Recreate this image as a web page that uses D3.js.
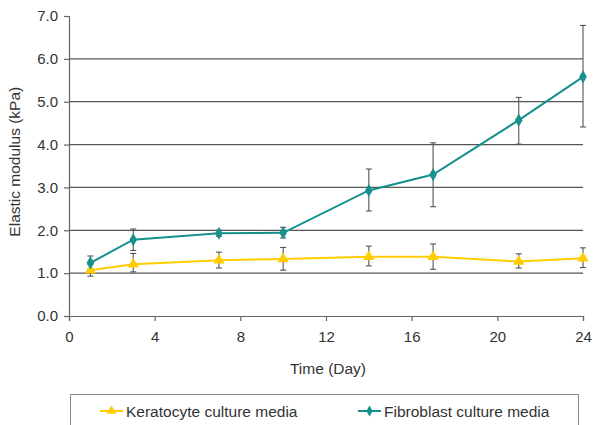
<!DOCTYPE html>
<html>
<head>
<meta charset="utf-8">
<script src="https://cdn.jsdelivr.net/npm/d3@7"></script>
<style>
  body { margin: 0; background: #fff; }
  text { font-family: "Liberation Sans", Arial, sans-serif; fill: #333; }
</style>
</head>
<body>
<svg id="chart" width="594" height="425"></svg>
<script>
var days = [1, 3, 7, 10, 14, 17, 21, 24];
var keratoMean = [1.07, 1.21, 1.30, 1.33, 1.38, 1.38, 1.27, 1.35];
var keratoLow  = [0.93, 1.03, 1.12, 1.07, 1.17, 1.09, 1.12, 1.13];
var keratoHigh = [1.20, 1.46, 1.49, 1.60, 1.63, 1.68, 1.45, 1.59];
var fibroMean  = [1.24, 1.78, 1.93, 1.94, 2.93, 3.30, 4.57, 5.58];
var fibroLow   = [1.10, 1.53, 1.86, 1.82, 2.45, 2.55, 4.01, 4.41];
var fibroHigh  = [1.40, 2.03, 2.00, 2.07, 3.43, 4.04, 5.10, 6.78];
var xTicks = [0, 4, 8, 12, 16, 20, 24];
var yTicks = [0, 1, 2, 3, 4, 5, 6, 7];
var yGrid = [1, 2, 3, 4, 5, 6];

var svg = d3.select("#chart");
var x = d3.scaleLinear().domain([0, 24]).range([69, 583]);
var y = d3.scaleLinear().domain([0, 7]).range([316, 16]);

// grid lines
svg.append("g").selectAll("line").data(yGrid).enter().append("line")
  .attr("x1", x(0)).attr("x2", x(24))
  .attr("y1", function(d) { return y(d); }).attr("y2", function(d) { return y(d); })
  .attr("stroke", "#555").attr("stroke-width", 1.2);

// axes
var yAxis = d3.axisLeft(y).tickValues(yTicks).tickFormat(d3.format(".1f")).tickSize(5).tickPadding(6);
var xAxis = d3.axisBottom(x).tickValues(xTicks).tickSize(5).tickPadding(10);
var gy = svg.append("g").attr("transform", "translate(" + x(0) + ",0)").call(yAxis);
var gx = svg.append("g").attr("transform", "translate(0," + y(0) + ")").call(xAxis);
[gy, gx].forEach(function(g) {
  g.selectAll("path,line").attr("stroke", "#666").attr("stroke-width", 1.2);
  g.selectAll("text").attr("font-size", 15).attr("fill", "#333")
    .style("font-family", "Liberation Sans, Arial, sans-serif");
});

svg.append("text").attr("transform", "translate(16," + y(3.6) + ") rotate(-90)")
  .attr("text-anchor", "middle").attr("dominant-baseline", "middle")
  .attr("font-size", 15.5).text("Elastic modulus (kPa)");
svg.append("text").attr("x", 328).attr("y", 374).attr("text-anchor", "middle")
  .attr("font-size", 15.5).text("Time (Day)");

function errorBars(mean, low, high) {
  var g = svg.append("g").attr("stroke", "#555").attr("stroke-width", 1.1);
  days.forEach(function(d, i) {
    g.append("line").attr("x1", x(d)).attr("x2", x(d)).attr("y1", y(low[i])).attr("y2", y(high[i]));
    g.append("line").attr("x1", x(d) - 3).attr("x2", x(d) + 3).attr("y1", y(low[i])).attr("y2", y(low[i]));
    g.append("line").attr("x1", x(d) - 3).attr("x2", x(d) + 3).attr("y1", y(high[i])).attr("y2", y(high[i]));
  });
}
errorBars(keratoMean, keratoLow, keratoHigh);
errorBars(fibroMean, fibroLow, fibroHigh);

var line = d3.line().x(function(d) { return x(d[0]); }).y(function(d) { return y(d[1]); });
var yellow = "#ffcc00", teal = "#16908c";

function series(mean, color, shape, size) {
  svg.append("path").datum(d3.zip(days, mean)).attr("d", line)
    .attr("fill", "none").attr("stroke", color).attr("stroke-width", 2);
  svg.append("g").selectAll("path").data(d3.zip(days, mean)).enter().append("path")
    .attr("transform", function(d) { return "translate(" + x(d[0]) + "," + y(d[1]) + ")"; })
    .attr("d", d3.symbol().type(shape).size(size)).attr("fill", color);
}
series(keratoMean, yellow, d3.symbolTriangle, 55);
series(fibroMean, teal, d3.symbolDiamond, 50);

// legend
var leg = svg.append("g");
leg.append("rect").attr("x", 70.5).attr("y", 394.5).attr("width", 508).attr("height", 40)
  .attr("fill", "#fff").attr("stroke", "#888").attr("stroke-width", 1);
var items = [
  {label: "Keratocyte culture media", color: yellow, shape: d3.symbolTriangle, size: 40, x: 100},
  {label: "Fibroblast culture media", color: teal, shape: d3.symbolDiamond, size: 35, x: 358}
];
items.forEach(function(it) {
  leg.append("line").attr("x1", it.x).attr("x2", it.x + 23).attr("y1", 411).attr("y2", 411)
    .attr("stroke", it.color).attr("stroke-width", 2);
  leg.append("path").attr("transform", "translate(" + (it.x + 11.5) + ",411)")
    .attr("d", d3.symbol().type(it.shape).size(it.size)).attr("fill", it.color);
  leg.append("text").attr("x", it.x + 26).attr("y", 417).attr("font-size", 15.5).attr("fill", "#222").text(it.label);
});
</script>
</body>
</html>
